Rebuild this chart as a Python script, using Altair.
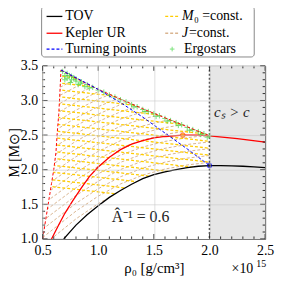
import altair as alt
import pandas as pd

# ---------------- data ----------------
tov_rho = [0.69, 0.75, 0.8, 0.9, 1.0, 1.1, 1.2, 1.3, 1.4, 1.5, 1.6, 1.7, 1.8, 1.9, 2.0, 2.1, 2.2, 2.3, 2.4, 2.5]
tov_M = [1.0, 1.11, 1.2, 1.35, 1.48, 1.6, 1.7, 1.79, 1.87, 1.93, 1.97, 2.0, 2.03, 2.05, 2.06, 2.06, 2.055, 2.05, 2.04, 2.03]

kep_rho = [0.58, 0.65, 0.7, 0.77, 0.85, 0.92, 1.0, 1.1, 1.2, 1.3, 1.4, 1.5, 1.6, 1.76, 1.9, 2.0, 2.25, 2.5]
kep_M = [1.0, 1.22, 1.37, 1.55, 1.74, 1.90, 2.04, 2.18, 2.29, 2.37, 2.42, 2.46, 2.48, 2.50, 2.50, 2.49, 2.45, 2.40]

shed_rho = [0.5, 0.53, 0.56, 0.58, 0.60, 0.62, 0.63, 0.645, 0.655, 0.665]
shed_M = [1.0, 1.3, 1.6, 1.8, 2.0, 2.25, 2.5, 2.8, 3.1, 3.44]

top_rho = [0.665, 0.8, 1.0, 1.2, 1.4, 1.6, 1.8, 2.0]
top_M = [3.44, 3.32, 3.16, 3.02, 2.88, 2.75, 2.62, 2.49]

turn_rho = [0.665, 0.8, 1.0, 1.2, 1.4, 1.6, 1.8, 2.0]
turn_M = [3.44, 3.33, 3.16, 2.97, 2.76, 2.53, 2.30, 2.06]

# M0 = const. sequences (value at rho=0.5 and at rho=2.0)
yellow_start = [3.38, 3.28, 3.18, 3.08, 2.98, 2.88, 2.78, 2.68, 2.58, 2.48, 2.38, 2.28, 2.18, 2.08, 1.98, 1.87, 1.77]
yellow_end = [3.11, 3.01, 2.91, 2.81, 2.71, 2.61, 2.51, 2.41, 2.31, 2.21, 2.11, 2.01, 1.91, 1.81, 1.71, 1.60, 1.50]

# J = const. sequences: start value at rho=0.5, rise profile, flattening per line
tan_grid = [0.5, 0.6, 0.7, 0.8, 1.0, 1.2, 1.4, 1.6, 1.8, 2.0]
tan_rise = [0.0, 0.13, 0.26, 0.39, 0.61, 0.79, 0.92, 1.01, 1.07, 1.11]
tan_start = [0.90, 1.02, 1.14, 1.26, 1.38, 1.50, 1.62, 1.74, 1.86, 1.98, 2.10, 2.22, 2.34, 2.46, 2.58, 2.70, 2.82, 2.94, 3.06, 3.18, 3.30]
tan_flat = [1.00, 0.98, 0.96, 0.94, 0.92, 0.90, 0.88, 0.86, 0.84, 0.82, 0.80, 0.78, 0.76, 0.74, 0.72, 0.70, 0.68, 0.66, 0.64, 0.62, 0.60]

ergo_rho = [0.68, 0.72, 0.76, 0.80, 0.85, 0.90, 0.95, 1.00, 1.05, 1.10, 1.15, 1.20, 1.25, 1.30, 1.35, 1.40, 1.45, 1.50,
            1.55, 1.60, 1.65, 1.70, 1.75, 1.80, 1.85, 1.90, 1.95, 2.00,
            1.32, 1.42, 1.52, 1.62, 1.72, 1.82, 1.92, 1.98,
            0.70, 0.74, 0.78, 0.72, 0.76, 0.80, 0.84, 0.70, 0.75, 0.82, 0.88, 0.92]
ergo_M = [3.42, 3.39, 3.35, 3.31, 3.27, 3.23, 3.19, 3.15, 3.12, 3.08, 3.05, 3.01, 2.98, 2.94, 2.91, 2.87, 2.84, 2.81,
          2.78, 2.74, 2.71, 2.68, 2.65, 2.61, 2.58, 2.55, 2.52, 2.49,
          2.91, 2.84, 2.77, 2.70, 2.64, 2.57, 2.51, 2.47,
          3.36, 3.36, 3.33, 3.32, 3.30, 3.28, 3.25, 3.30, 3.26, 3.23, 3.20, 3.18]

tov_max = (2.0, 2.06)
kep_mark = (1.76, 2.50)
causal_start, causal_end = 2.0, 2.5

x_domain = [0.5, 2.5]
y_domain = [1.0, 3.5]
x_major = [0.5, 1.0, 1.5, 2.0, 2.5]
x_minor = [0.6, 0.7, 0.8, 0.9, 1.1, 1.2, 1.3, 1.4, 1.6, 1.7, 1.8, 1.9, 2.1, 2.2, 2.3, 2.4]
y_major = [1.0, 1.5, 2.0, 2.5, 3.0, 3.5]
y_minor = [1.1, 1.2, 1.3, 1.4, 1.6, 1.7, 1.8, 1.9, 2.1, 2.2, 2.3, 2.4, 2.6, 2.7, 2.8, 2.9, 3.1, 3.2, 3.3, 3.4]

legend_labels = ["TOV", "Kepler UR", "Turning points", "M0", "J", "Ergostars"]
legend_colors = ["black", "#ff0000", "#0000ff", "#ffcc00", "#d9b48f", "#44d844"]

# ---------------- layout ----------------
W, H = 225, 175
SERIF = "Liberation Serif"
xs = alt.Scale(domain=x_domain, nice=False, zero=False)
ys = alt.Scale(domain=y_domain, nice=False, zero=False)

common = dict(ticks=False, domain=False, grid=True, gridColor="#c8c8c8", gridWidth=0.6, zindex=1,
              labelFont=SERIF, labelFontSize=14, labelColor="black", labelFlush=False, labelOverlap=False,
              titleFont=SERIF, titleFontWeight="normal", titleColor="black", format=".1f")
xaxis = alt.Axis(values=x_major, title="ρ₀  [g/cm³]", labelPadding=5, titlePadding=3, titleFontSize=15, **common)
yaxis = alt.Axis(values=y_major, title="M  [M⊙]", labelPadding=5, titleFontSize=14,
                 titleX=-21, titleY=H / 2, titleAngle=270, titleAlign="center", titleBaseline="bottom", **common)


def X(f):
    return alt.X(f"{f}:Q", scale=xs, axis=xaxis)


def Y(f):
    return alt.Y(f"{f}:Q", scale=ys, axis=yaxis)


def df_curve(r, m):
    return pd.DataFrame({"rho": r, "M": m})


layers = []

# causality-violating region
layers.append(alt.Chart(pd.DataFrame({"a": [causal_start], "b": [causal_end]}))
              .mark_rect(color="#e6e6e6").encode(x=X("a"), x2=alt.X2("b")))

# J = const. lines
rows = []
for i, (s, f) in enumerate(zip(tan_start, tan_flat)):
    for r, d in zip(tan_grid, tan_rise):
        rows.append({"id": i, "rho": r, "M": s + f * d})
layers.append(alt.Chart(pd.DataFrame(rows)).mark_line(clip=True, color="#d9b48f", strokeDash=[3, 2], strokeWidth=1.0)
              .encode(x=X("rho"), y=Y("M"), detail="id:N"))

# M0 = const. lines
rows = []
for i, (a, b) in enumerate(zip(yellow_start, yellow_end)):
    rows.append({"id": i, "rho": 0.5, "M": a})
    rows.append({"id": i, "rho": 2.0, "M": b})
layers.append(alt.Chart(pd.DataFrame(rows)).mark_line(clip=True, color="#ffcc00", strokeDash=[3, 2], strokeWidth=1.3)
              .encode(x=X("rho"), y=Y("M"), detail="id:N"))

# masks outside the solution region (white areas bounded by the curves and the frame)
m_left = df_curve(shed_rho, shed_M).assign(edge=x_domain[0])
layers.append(alt.Chart(m_left).mark_area(color="white", orient="horizontal", clip=True)
              .encode(y=Y("M"), x=X("rho"), x2=alt.X2("edge")))
m_top = df_curve([x_domain[0]] + top_rho, [top_M[0]] + top_M).assign(edge=y_domain[1])
layers.append(alt.Chart(m_top).mark_area(color="white", clip=True)
              .encode(x=X("rho"), y=Y("M"), y2=alt.Y2("edge")))
tov_in = [(r, m) for r, m in zip(tov_rho, tov_M) if r <= causal_start]
m_bot = df_curve([p[0] for p in tov_in], [p[1] for p in tov_in]).assign(edge=y_domain[0])
layers.append(alt.Chart(m_bot).mark_area(color="white", clip=True)
              .encode(x=X("rho"), y=Y("M"), y2=alt.Y2("edge")))

# dotted causality boundary
layers.append(alt.Chart(pd.DataFrame({"a": [causal_start]}))
              .mark_rule(color="#444444", strokeDash=[2, 2], strokeWidth=1.5).encode(x=X("a")))

# main curves
layers.append(alt.Chart(df_curve(kep_rho, kep_M)).mark_line(color="#ff0000", strokeWidth=1.3, clip=True)
              .encode(x=X("rho"), y=Y("M")))
layers.append(alt.Chart(df_curve(tov_rho, tov_M)).mark_line(color="black", strokeWidth=1.3, clip=True)
              .encode(x=X("rho"), y=Y("M")))
layers.append(alt.Chart(df_curve(shed_rho, shed_M)).mark_line(color="#ff0000", strokeDash=[3, 2], strokeWidth=1.0, clip=True)
              .encode(x=X("rho"), y=Y("M"), order="M:Q"))
layers.append(alt.Chart(df_curve(ergo_rho, ergo_M))
              .mark_point(shape="M-1,0L1,0M0,-1L0,1", size=30, color="#44d844", strokeWidth=1.0, filled=False)
              .encode(x=X("rho"), y=Y("M")))
layers.append(alt.Chart(df_curve(top_rho, top_M)).mark_line(color="#ff0000", strokeDash=[3, 2], strokeWidth=1.0)
              .encode(x=X("rho"), y=Y("M")))
layers.append(alt.Chart(df_curve(turn_rho, turn_M)).mark_line(color="#0000ff", strokeDash=[3, 2], strokeWidth=1.0)
              .encode(x=X("rho"), y=Y("M")))
layers.append(alt.Chart(df_curve([tov_max[0]], [tov_max[1]]))
              .mark_point(filled=True, size=22, color="#222222", stroke="#0000ff", strokeWidth=1)
              .encode(x=X("rho"), y=Y("M")))
layers.append(alt.Chart(df_curve([kep_mark[0]], [kep_mark[1]]))
              .mark_point(filled=True, size=22, color="#ffa500", stroke="#ff3300", strokeWidth=1)
              .encode(x=X("rho"), y=Y("M")))

# annotations
layers.append(alt.Chart(pd.DataFrame({"rho": [2.2], "M": [2.83], "t": ["cₛ > c"]}))
              .mark_text(font=SERIF, fontSize=15, fontStyle="italic", color="#222222")
              .encode(x=X("rho"), y=Y("M"), text="t:N"))
layers.append(alt.Chart(pd.DataFrame({"rho": [1.38], "M": [1.31], "t": ["Â⁻¹ = 0.6"]}))
              .mark_text(font=SERIF, fontSize=16, color="#222222")
              .encode(x=X("rho"), y=Y("M"), text="t:N"))
layers.append(alt.Chart(pd.DataFrame({"t": ["×10"]}))
              .mark_text(font=SERIF, fontSize=14, align="right", baseline="top", color="black")
              .encode(x=alt.value(W - 12), y=alt.value(H + 23), text="t:N"))
layers.append(alt.Chart(pd.DataFrame({"t": ["15"]}))
              .mark_text(font=SERIF, fontSize=10, align="right", baseline="top", color="black")
              .encode(x=alt.value(W + 1), y=alt.value(H + 20), text="t:N"))

# inward ticks on all four sides
for vals, ln in ((x_major, 5), (x_minor, 2.5)):
    d = pd.DataFrame({"t": vals})
    layers.append(alt.Chart(d).mark_rule(color="black", strokeWidth=0.8)
                  .encode(x=X("t"), y=alt.value(H), y2=alt.value(H - ln)))
    layers.append(alt.Chart(d).mark_rule(color="black", strokeWidth=0.8)
                  .encode(x=X("t"), y=alt.value(0), y2=alt.value(ln)))
for vals, ln in ((y_major, 5), (y_minor, 2.5)):
    d = pd.DataFrame({"t": vals})
    layers.append(alt.Chart(d).mark_rule(color="black", strokeWidth=0.8)
                  .encode(y=Y("t"), x=alt.value(0), x2=alt.value(ln)))
    layers.append(alt.Chart(d).mark_rule(color="black", strokeWidth=0.8)
                  .encode(y=Y("t"), x=alt.value(W), x2=alt.value(W - ln)))

# legend (above the plot)
one = pd.DataFrame({"a": [0]})
layers.append(alt.Chart(one).mark_rect(fill="white", stroke="#888888", strokeWidth=1, cornerRadius=3)
              .encode(x=alt.value(-1), x2=alt.value(214), y=alt.value(-60), y2=alt.value(-9)))
row_y = [-50, -33, -17]
col_x = [(4, 20, 23), (124, 138, 141)]
for i, (lab, col) in enumerate(zip(legend_labels, legend_colors)):
    c, r = divmod(i, 3)
    x1, x2, xt = col_x[c]
    y = row_y[r]
    if lab == "Ergostars":
        layers.append(alt.Chart(one).mark_point(shape="M-1,0L1,0M0,-1L0,1", size=22, color=col, strokeWidth=1, filled=False)
                      .encode(x=alt.value((x1 + x2) / 2), y=alt.value(y)))
        layers.append(alt.Chart(one).mark_text(font=SERIF, fontSize=14, align="left", baseline="middle", color="black")
                      .encode(x=alt.value(xt + 2), y=alt.value(y), text=alt.value(lab)))
        continue
    if lab in ("TOV", "Kepler UR"):
        rule = alt.Chart(one).mark_rule(color=col, strokeWidth=1.3)
    else:
        rule = alt.Chart(one).mark_rule(color=col, strokeWidth=1.3, strokeDash=[3, 2])
    layers.append(rule.encode(x=alt.value(x1), x2=alt.value(x2), y=alt.value(y), y2=alt.value(y)))
    if lab == "M0":
        layers.append(alt.Chart(one).mark_text(font=SERIF, fontSize=14, fontStyle="italic", align="left", baseline="middle", color="black")
                      .encode(x=alt.value(xt), y=alt.value(y), text=alt.value("M")))
        layers.append(alt.Chart(one).mark_text(font=SERIF, fontSize=14, align="left", baseline="middle", color="black")
                      .encode(x=alt.value(xt + 12), y=alt.value(y), text=alt.value("₀ =const.")))
    elif lab == "J":
        layers.append(alt.Chart(one).mark_text(font=SERIF, fontSize=14, fontStyle="italic", align="left", baseline="middle", color="black")
                      .encode(x=alt.value(xt), y=alt.value(y), text=alt.value("J")))
        layers.append(alt.Chart(one).mark_text(font=SERIF, fontSize=14, align="left", baseline="middle", color="black")
                      .encode(x=alt.value(xt + 7), y=alt.value(y), text=alt.value(" =const.")))
    else:
        layers.append(alt.Chart(one).mark_text(font=SERIF, fontSize=14, align="left", baseline="middle", color="black")
                      .encode(x=alt.value(xt), y=alt.value(y), text=alt.value(lab)))

chart = alt.layer(*layers).properties(
    width=W, height=H,
    autosize=alt.AutoSizeParams(type="none"),
    padding={"left": 35, "top": 57, "right": 10, "bottom": 40},
    background="white",
).configure_view(stroke="black", strokeWidth=1)

chart.save("out.html", embed_options={"renderer": "svg", "actions": False})
